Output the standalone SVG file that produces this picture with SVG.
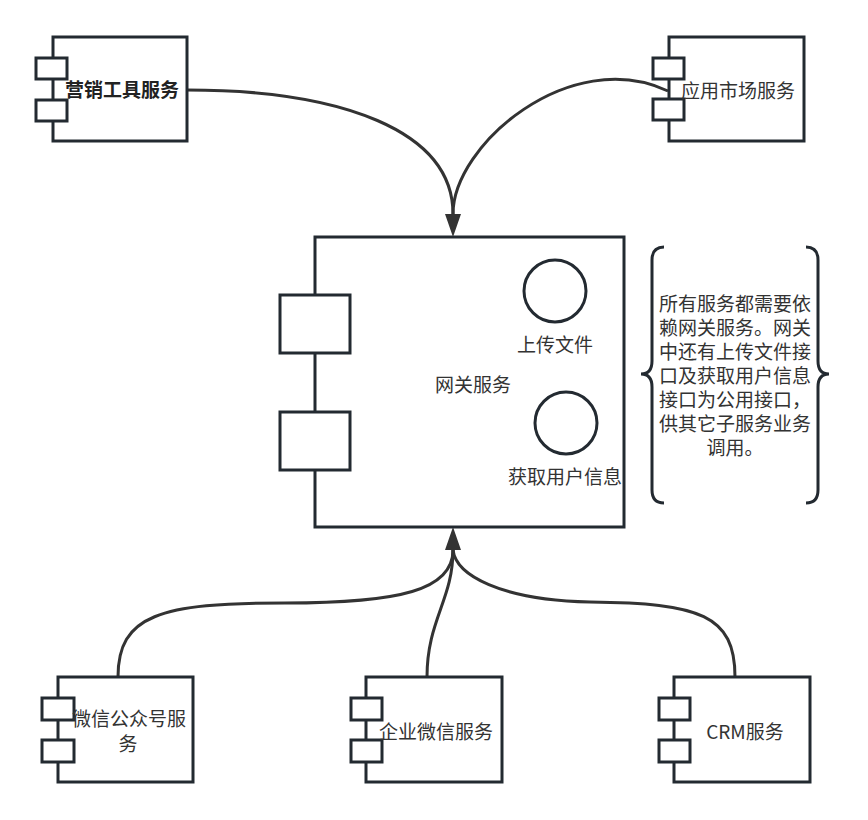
<svg xmlns="http://www.w3.org/2000/svg" width="868" height="820" viewBox="0 0 868 820">
<defs>
<style>
.box{fill:#fff;stroke:#232a31;stroke-width:3}
.port{fill:#fff;stroke:#232a31;stroke-width:3}
.circ{fill:#fff;stroke:#232a31;stroke-width:3}
.edge{fill:none;stroke:#333;stroke-width:3}
.brace{fill:none;stroke:#232a31;stroke-width:3}
text{font-family:"Noto Sans CJK SC","Liberation Sans",sans-serif;font-size:19px;fill:#333;text-anchor:middle}
.b{font-weight:bold;fill:#222}
</style>
</defs>
<rect width="868" height="820" fill="#fff"/>
<g id="connectors">
<path class="edge" d="M187 90 C340 90 453 130 453 214"/>
<path class="edge" d="M668 91 C570 45 453 145 453 214"/>
<path class="edge" d="M118 677 C118 615 160 603 285 603 C400 603 453 590 453 550"/>
<path class="edge" d="M427 677 C427 620 453 600 453 550"/>
<path class="edge" d="M735 677 C735 615 700 603 590 602 C500 600 456 575 453 550"/>
<path d="M445 214 L461 214 L453 237 Z" fill="#333"/>
<path d="M445 550 L461 550 L453 527 Z" fill="#333"/>
</g>
<g id="marketing">
<rect class="box" x="53" y="37" width="134" height="104"/>
<rect class="port" x="36" y="58" width="31" height="21"/>
<rect class="port" x="36" y="100" width="31" height="21"/>
<text class="b" x="122" y="97">营销工具服务</text>
</g>
<g id="appmarket">
<rect class="box" x="669" y="37" width="135" height="104"/>
<rect class="port" x="653" y="58" width="31" height="21"/>
<rect class="port" x="653" y="99" width="31" height="21"/>
<text x="738" y="98">应用市场服务</text>
</g>
<g id="gateway">
<rect class="box" x="315" y="237" width="309" height="290"/>
<rect class="port" x="280" y="295" width="70" height="58"/>
<rect class="port" x="280" y="412" width="70" height="58"/>
<text x="473" y="392">网关服务</text>
<circle class="circ" cx="555" cy="291" r="31"/>
<text x="555" y="352">上传文件</text>
<circle class="circ" cx="566" cy="423" r="31"/>
<text x="565" y="484">获取用户信息</text>
</g>
<g id="note">
<path class="brace" d="M664 247 Q652 247 652 260 L652 361 Q652 374 641 374 Q652 374 652 387 L652 490 Q652 503 664 503"/>
<path class="brace" d="M806 247 Q818 247 818 260 L818 361 Q818 374 829 374 Q818 374 818 387 L818 490 Q818 503 806 503"/>
<text x="735" y="311"><tspan x="735" y="311">所有服务都需要依</tspan><tspan x="735" y="335">赖网关服务。网关</tspan><tspan x="735" y="359">中还有上传文件接</tspan><tspan x="735" y="383">口及获取用户信息</tspan><tspan x="735" y="407">接口为公用接口，</tspan><tspan x="735" y="431">供其它子服务业务</tspan><tspan x="735" y="455">调用。</tspan></text>
</g>
<g id="wechat-mp">
<rect class="box" x="58" y="677" width="135" height="105"/>
<rect class="port" x="42" y="698" width="32" height="22"/>
<rect class="port" x="42" y="740" width="32" height="22"/>
<text x="129" y="726"><tspan x="129" y="726">微信公众号服</tspan><tspan x="128" y="751">务</tspan></text>
</g>
<g id="wecom">
<rect class="box" x="366" y="677" width="136" height="105"/>
<rect class="port" x="351" y="698" width="31" height="22"/>
<rect class="port" x="351" y="740" width="31" height="22"/>
<text x="436" y="739">企业微信服务</text>
</g>
<g id="crm">
<rect class="box" x="674" y="677" width="136" height="105"/>
<rect class="port" x="659" y="698" width="31" height="22"/>
<rect class="port" x="659" y="740" width="31" height="22"/>
<text x="745" y="739">CRM服务</text>
</g>
</svg>
